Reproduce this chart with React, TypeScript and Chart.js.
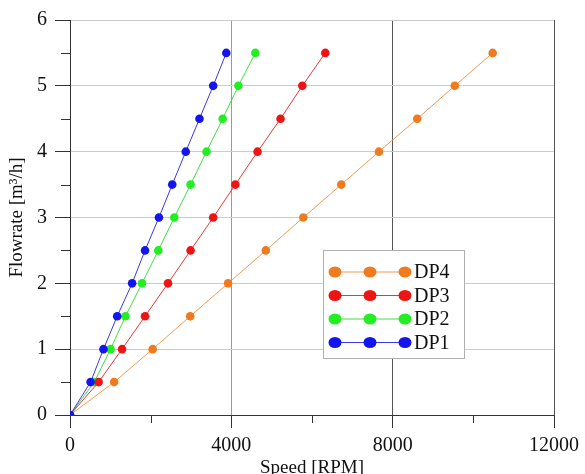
import React, { useEffect, useRef } from "react";
import { Chart, registerables } from "chart.js";

Chart.register(...registerables);

const FLOW = [0, 0.5, 1, 1.5, 2, 2.5, 3, 3.5, 4, 4.5, 5, 5.5];
const DP1 = [0, 510, 830, 1170, 1540, 1860, 2205, 2535, 2870, 3210, 3550, 3875];
const DP2 = [0, 600, 1005, 1375, 1785, 2190, 2585, 2990, 3385, 3785, 4175, 4595];
const DP3 = [0, 710, 1290, 1860, 2430, 2990, 3550, 4100, 4650, 5220, 5760, 6330];
const DP4 = [0, 1095, 2050, 2980, 3920, 4855, 5785, 6725, 7660, 8610, 9540, 10480];
const X_TICKS = [0, 4000, 8000, 12000];
const X_MINOR = [2000, 6000, 10000];
const Y_MINOR = [0.5, 1.5, 2.5, 3.5, 4.5, 5.5];

const FONT = "'Liberation Serif', 'Times New Roman', serif";

const series = [
  { label: "DP1", values: DP1, point: "#1414ee", line: "#3a3ae6", order: 0 },
  { label: "DP2", values: DP2, point: "#22ee22", line: "#44dd44", order: 2 },
  { label: "DP3", values: DP3, point: "#ee1414", line: "#e03a3a", order: 1 },
  { label: "DP4", values: DP4, point: "#f07a1e", line: "#f29a55", order: 3 },
];

const minorTicks = {
  id: "minorTicks",
  afterDraw(chart: any) {
    const { ctx, chartArea, scales } = chart;
    ctx.save();
    ctx.strokeStyle = "#333";
    ctx.lineWidth = 1;
    ctx.beginPath();
    for (const v of Y_MINOR) {
      const y = Math.round(scales.y.getPixelForValue(v)) + 0.5;
      ctx.moveTo(chartArea.left - 9, y);
      ctx.lineTo(chartArea.left, y);
    }
    for (const v of X_MINOR) {
      const x = Math.round(scales.x.getPixelForValue(v)) + 0.5;
      ctx.moveTo(x, chartArea.bottom);
      ctx.lineTo(x, chartArea.bottom + 8);
    }
    ctx.stroke();
    ctx.restore();
  },
};

const boxLegend = {
  id: "boxLegend",
  afterDraw(chart: any) {
    const { ctx } = chart;
    const ds = chart.data.datasets.slice().reverse();
    const bx = 323, by = 250, bw = 141, bh = 108;
    ctx.save();
    ctx.fillStyle = "#ffffff";
    ctx.fillRect(bx, by, bw, bh);
    ctx.strokeStyle = "#b0b0b0";
    ctx.lineWidth = 1;
    ctx.strokeRect(bx + 0.5, by + 0.5, bw, bh);
    ds.forEach((d: any, i: number) => {
      const y = 272 + i * 23.5;
      const x0 = 335, x1 = 405;
      ctx.strokeStyle = d.borderColor;
      ctx.lineWidth = 1.2;
      ctx.beginPath();
      ctx.moveTo(x0, y);
      ctx.lineTo(x1, y);
      ctx.stroke();
      ctx.fillStyle = d.pointBackgroundColor;
      for (const mx of [x0, (x0 + x1) / 2, x1]) {
        ctx.beginPath();
        ctx.ellipse(mx, y, 6.5, 5.5, 0, 0, Math.PI * 2);
        ctx.fill();
      }
      ctx.fillStyle = "#111";
      ctx.font = `20px ${FONT}`;
      ctx.textBaseline = "middle";
      ctx.textAlign = "left";
      ctx.fillText(d.label, 414, y + 1);
    });
    ctx.restore();
  },
};

export default function App() {
  const ref = useRef<HTMLCanvasElement>(null);
  useEffect(() => {
    if (!ref.current) return;
    const chart = new Chart(ref.current, {
      type: "line",
      data: {
        datasets: series.map((s) => ({
          label: s.label,
          data: s.values.map((v, i) => ({ x: v, y: FLOW[i] })),
          borderColor: s.line,
          backgroundColor: s.point,
          pointBackgroundColor: s.point,
          pointBorderColor: s.point,
          pointBorderWidth: 0,
          pointRadius: 4.3,
          borderWidth: 1,
          order: s.order,
          tension: 0,
        })),
      },
      options: {
        responsive: false,
        animation: false,
        devicePixelRatio: 1,
        layout: { padding: { top: 15, right: 29, left: 0, bottom: 0 } },
        plugins: { legend: { display: false }, tooltip: { enabled: false } },
        scales: {
          x: {
            type: "linear",
            min: 0,
            max: 12000,
            afterFit: (s: any) => { s.height = 59; },
            afterBuildTicks: (s: any) => { s.ticks = X_TICKS.map((v) => ({ value: v })); },
            ticks: {
              color: "#111",
              font: { family: FONT, size: 20 },
              padding: 6,
              maxRotation: 0,
              callback: (v: any) => String(v),
            },
            grid: {
              color: (c: any) => {
                const v = c.tick ? c.tick.value : 0;
                if (v === 0) return "rgba(0,0,0,0)";
                if (v === 4000) return "#9a9a9a";
                return "#555555";
              },
              tickColor: "#333",
              tickLength: 13,
              drawTicks: true,
            },
            border: { display: true, color: "#333", width: 1 },
            title: {
              display: true,
              text: "Speed [RPM]",
              color: "#111",
              font: { family: FONT, size: 19, lineHeight: 1 },
              padding: { top: 0, bottom: -4 },
            },
          },
          y: {
            type: "linear",
            min: 0,
            max: 6,
            afterFit: (s: any) => { s.width = 70; },
            ticks: { stepSize: 1, color: "#111", font: { family: FONT, size: 20 }, padding: 8 },
            grid: {
              color: (c: any) => (c.tick && c.tick.value === 0 ? "rgba(0,0,0,0)" : "#cccccc"),
              tickColor: "#333",
              tickLength: 15,
              drawTicks: true,
            },
            border: { display: true, color: "#333", width: 1 },
            title: {
              display: true,
              text: "Flowrate [m³/h]",
              color: "#111",
              font: { family: FONT, size: 19, lineHeight: 1 },
              padding: { top: 8, bottom: 0 },
            },
          },
        },
      },
      plugins: [minorTicks, boxLegend],
    } as any);
    return () => chart.destroy();
  }, []);
  return (
    <canvas
      ref={ref}
      width={585}
      height={474}
      style={{ position: "fixed", left: 0, top: 0, width: 585, height: 474 }}
    />
  );
}
